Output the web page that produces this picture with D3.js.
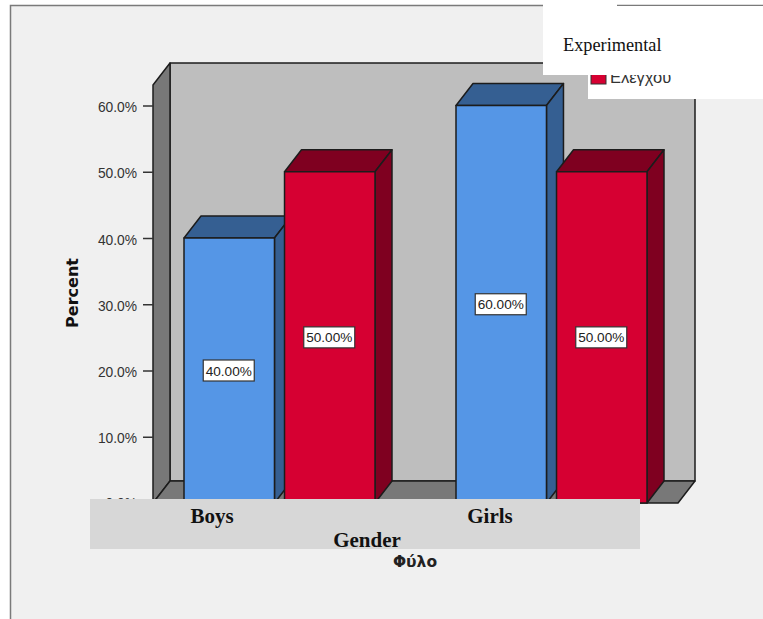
<!DOCTYPE html>
<html>
<head>
<meta charset="utf-8">
<script src="https://cdn.jsdelivr.net/npm/d3@7"></script>
<style>
  html, body { margin: 0; padding: 0; background: #fff; overflow: hidden; }
  svg { display: block; }
  .sans { font-family: "Liberation Sans", Arial, sans-serif; }
  .title { font-family: "DejaVu Sans", Verdana, sans-serif; }
  .serif { font-family: "Liberation Serif", "Times New Roman", serif; }
</style>
</head>
<body>
<div id="chart"></div>
<script>
// Percent of each gender in the experimental and control groups
const genders = ["Boys", "Girls"];
const groups = ["Experimental", "Ελεγχου"];
const boysValues = [40, 50];
const girlsValues = [60, 50];
const tickValues = [0, 10, 20, 30, 40, 50, 60];

const colors = {
  page: "#f0f0f0", frame: "#7a7a7a", wall: "#bebebe", side: "#787878",
  edge: "#1c1c1c", strip: "#d7d7d7"
};
const groupFill = { front: ["#5596e6", "#d60032"], shade: ["#355f92", "#7f0020"] };

const width = 763, height = 619;
const depthX = 17, depthY = 22;

const y = d3.scaleLinear().domain([0, 60]).range([503, 105.5]);
const x0 = d3.scaleBand().domain(genders).range([143, 687]);
const x1 = d3.scaleBand().domain(groups).range([-95, 96]).paddingInner(0.1);

const svg = d3.select("#chart").append("svg")
  .attr("width", width).attr("height", height);

// Outer chart frame
svg.append("rect").attr("x", 10.5).attr("y", 5.5)
  .attr("width", width + 20).attr("height", height + 20)
  .attr("fill", colors.page).attr("stroke", colors.frame).attr("stroke-width", 1.5);

// 3D box: back wall, left wall, floor
const boxLeft = 153, boxRight = 678, boxBottom = y(0), boxTop = 85;
const outline = p => "M" + p.map(q => q.join(",")).join("L") + "Z";
const walls = svg.append("g").attr("stroke", colors.edge).attr("stroke-width", 1.5).attr("stroke-linejoin", "round");
walls.append("rect")
  .attr("x", boxLeft + depthX).attr("y", boxTop - depthY)
  .attr("width", boxRight - boxLeft).attr("height", boxBottom - boxTop)
  .attr("fill", colors.wall);
walls.append("path").attr("fill", colors.side).attr("d", outline([
  [boxLeft, boxTop], [boxLeft + depthX, boxTop - depthY], [boxLeft + depthX, boxBottom - depthY], [boxLeft, boxBottom]
]));
walls.append("path").attr("fill", colors.side).attr("d", outline([
  [boxLeft, boxBottom], [boxLeft + depthX, boxBottom - depthY], [boxRight + depthX, boxBottom - depthY], [boxRight, boxBottom]
]));

// Value axis
const axis = d3.axisLeft(y).tickValues(tickValues).tickSize(10).tickPadding(6)
  .tickFormat(d => d.toFixed(1) + "%");
const axisG = svg.append("g").attr("transform", `translate(${boxLeft},0)`).call(axis);
axisG.select(".domain").remove();
axisG.selectAll(".tick line").attr("stroke", "#333").attr("stroke-width", 1.5);
axisG.selectAll(".tick text").attr("class", "sans").attr("font-size", 13.8).attr("fill", "#333")
  .attr("dy", d => d === 0 ? "0.29em" : "0.45em");

// Bars, drawn left to right so nearer faces overlap correctly
const rows = genders.flatMap((g, i) => {
  const vals = i === 0 ? boysValues : girlsValues;
  return groups.map((s, j) => ({ gender: g, group: s, j, value: vals[j] }));
});
const bw = x1.bandwidth();
const bar = svg.append("g").selectAll("g").data(rows).join("g")
  .attr("stroke", colors.edge).attr("stroke-width", 1.5).attr("stroke-linejoin", "round");
const bx = d => x0(d.gender) + x0.bandwidth() / 2 + x1(d.group);

bar.append("path").attr("fill", d => groupFill.shade[d.j]).attr("d", d => outline([
  [bx(d), y(d.value)], [bx(d) + depthX, y(d.value) - depthY],
  [bx(d) + bw + depthX, y(d.value) - depthY], [bx(d) + bw, y(d.value)]
]));
bar.append("path").attr("fill", d => groupFill.shade[d.j]).attr("d", d => outline([
  [bx(d) + bw, y(d.value)], [bx(d) + bw + depthX, y(d.value) - depthY],
  [bx(d) + bw + depthX, y(0) - depthY], [bx(d) + bw, y(0)]
]));
bar.append("rect").attr("fill", d => groupFill.front[d.j])
  .attr("x", bx).attr("y", d => y(d.value))
  .attr("width", bw).attr("height", d => y(0) - y(d.value));

// Value labels centred on each bar's front face
const tag = svg.append("g").selectAll("g").data(rows).join("g")
  .attr("transform", d => `translate(${bx(d) + bw / 2 - 0.5},${(y(d.value) + y(0)) / 2})`);
tag.append("rect").attr("x", -25.5).attr("y", -10.5).attr("width", 51).attr("height", 21)
  .attr("fill", "#fff").attr("stroke", "#333").attr("stroke-width", 1.2);
tag.append("text").attr("class", "sans").attr("text-anchor", "middle").attr("y", 5)
  .attr("font-size", 13.6).attr("fill", "#222").text(d => d.value.toFixed(2) + "%");

// Legend panel
const legend = svg.append("g");
legend.append("rect").attr("x", 588).attr("y", 6).attr("width", 175).attr("height", 93).attr("fill", "#fff");
legend.append("rect").attr("x", 591).attr("y", 74).attr("width", 15).attr("height", 10)
  .attr("fill", groupFill.front[1]).attr("stroke", "#333");
legend.append("text").attr("class", "sans").attr("x", 610).attr("y", 83)
  .attr("font-size", 16.5).attr("fill", "#333").text(groups[1]);

// Panel holding the first legend entry
svg.append("rect").attr("x", 543).attr("y", 0).attr("width", 74).attr("height", 75).attr("fill", "#fff");
svg.append("rect").attr("x", 617).attr("y", 7).attr("width", 146).attr("height", 68).attr("fill", "#fff");
svg.append("text").attr("class", "serif").attr("x", 563).attr("y", 51)
  .attr("font-size", 18.3).attr("fill", "#111").text(groups[0]);

// Axis titles
svg.append("text").attr("class", "title")
  .attr("transform", "translate(78,293) rotate(-90)")
  .attr("text-anchor", "middle").attr("font-size", 16).attr("font-weight", "bold").attr("fill", "#111")
  .text("Percent");

// Band carrying the category labels
svg.append("rect").attr("x", 90).attr("y", 499).attr("width", 550).attr("height", 50).attr("fill", colors.strip);
const genderPos = { Boys: 212, Girls: 490 };
svg.append("g").selectAll("text").data(genders).join("text")
  .attr("class", "serif").attr("text-anchor", "middle")
  .attr("x", d => genderPos[d]).attr("y", 523)
  .attr("font-size", 21).attr("font-weight", "bold").attr("fill", "#111").text(d => d);
svg.append("text").attr("class", "serif").attr("text-anchor", "middle")
  .attr("x", 367).attr("y", 547).attr("font-size", 21).attr("font-weight", "bold").attr("fill", "#111").text("Gender");
svg.append("text").attr("class", "title").attr("text-anchor", "middle")
  .attr("x", 415).attr("y", 567).attr("font-size", 15.5).attr("font-weight", "bold").attr("fill", "#222").text("Φύλο");
</script>
</body>
</html>
